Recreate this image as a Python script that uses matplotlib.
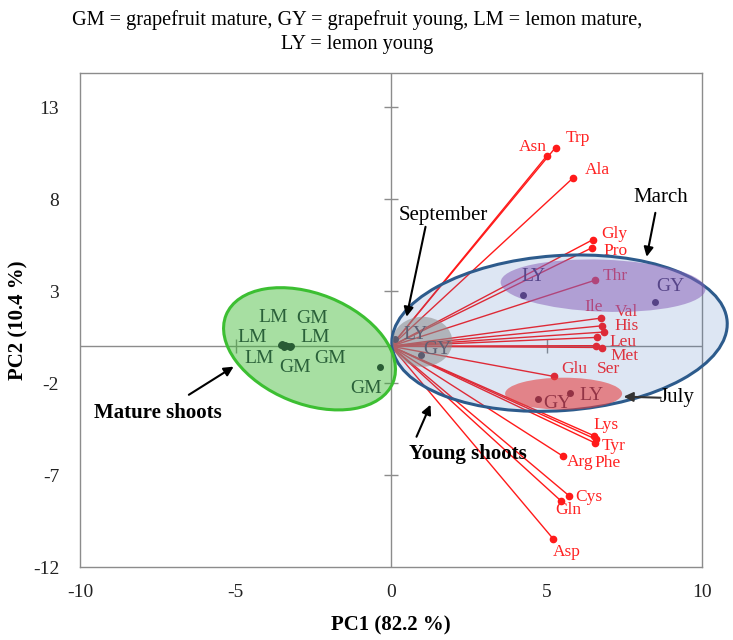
import matplotlib
matplotlib.use('Agg')
import matplotlib.pyplot as plt
from matplotlib.patches import Ellipse
from matplotlib.transforms import ScaledTranslation

plt.rcParams['font.family'] = 'serif'
plt.rcParams['font.serif'] = ['Liberation Serif', 'DejaVu Serif']
plt.rcParams['axes.unicode_minus'] = False

# amino acid loadings
amino = ['Asn', 'Trp', 'Ala', 'Gly', 'Pro', 'Thr', 'Ile', 'Val', 'His', 'Leu',
         'Met', 'Ser', 'Glu', 'Lys', 'Tyr', 'Phe', 'Arg', 'Cys', 'Gln', 'Asp']
load_pc1 = [5.01, 5.29, 5.85, 6.49, 6.45, 6.55, 6.76, 6.79, 6.84, 6.63,
            6.79, 6.58, 5.23, 6.52, 6.58, 6.55, 5.54, 5.72, 5.48, 5.21]
load_pc2 = [10.35, 10.8, 9.14, 5.79, 5.34, 3.58, 1.53, 1.11, 0.77, 0.48,
            -0.07, 0.03, -1.64, -4.86, -5.05, -5.25, -5.99, -8.12, -8.43, -10.46]

# sample scores
samples = ['LM', 'GM', 'LM', 'LM', 'LM', 'GM', 'GM', 'GM',
           'LY', 'GY', 'LY', 'GY', 'GY', 'LY']
score_pc1 = [-3.5, -3.4, -3.55, -3.3, -3.45, -3.25, -3.2, -0.34,
             0.14, 0.97, 4.25, 8.5, 4.73, 5.75]
score_pc2 = [0.12, 0.08, 0.05, 0.02, -0.02, -0.05, 0.0, -1.13,
             0.41, -0.46, 2.8, 2.38, -2.87, -2.54]

xticks = [-10, -5, 0, 5, 10]
yticks = [-12, -7, -2, 3, 8, 13]

# label offsets in pixels
amino_dx = [-14, 22, 24, 21, 24, 21, -8, 24, 23, 26, 22, 13, 21, 12, 18, 13, 17, 20, 7, 14]
amino_dy = [9, 10, 8, 6, -3, 4, 11, 14, 6, -5, -8, -23, 7, 11, -7, -20, -6, -1, -9, -13]
sample_dx = [-9, 27, -28, 27, -25, 5, 39, -14, 20, 16, 10, 15, 19, 22]
sample_dy = [27, 26, 8, 8, -12, -20, -12, -21, 4, 5, 18, 16, -4, -3]

fig = plt.figure(figsize=(7.33, 6.4), dpi=100)
ax = fig.add_axes([80 / 733, 1 - 567 / 640, 622 / 733, 494 / 640])
ax.set_xlim(-10, 10)
ax.set_ylim(-12, 14.85)
ax.set_xticks(xticks)
ax.set_yticks(yticks)
ax.tick_params(length=0, labelsize=14, colors='#222222')
ax.tick_params(axis='x', pad=12)
ax.tick_params(axis='y', pad=15)
for s in ax.spines.values():
    s.set_color('#8c8c8c')
    s.set_linewidth(1)

# axis lines through zero with cross ticks
ax.axhline(0, color='#8c8c8c', lw=1, zorder=1)
ax.axvline(0, color='#8c8c8c', lw=1, zorder=1)
ax.plot([t for t in xticks if t not in (-10, 0, 10)], [0] * 2, ls='none', marker='|',
        ms=10, mew=1, color='#8c8c8c', zorder=1)
ax.plot([0] * 5, [t for t in yticks if t != -12], ls='none', marker='_',
        ms=10, mew=1, color='#8c8c8c', zorder=1)

# loadings
for name, x, y, dx, dy in zip(amino, load_pc1, load_pc2, amino_dx, amino_dy):
    ax.plot([0, x], [0, y], color='#ff1a1a', lw=1, zorder=2)
    ax.plot(x, y, 'o', color='#ff1a1a', ms=4.5, zorder=3)
    ax.annotate(name, (x, y), xytext=(dx, dy), textcoords='offset pixels',
                ha='center', va='center', fontsize=12.5, color='#ff2222', zorder=3)

# scores
ax.plot(score_pc1, score_pc2, 'o', color='#1a1238', ms=4, ls='none', zorder=3)
for name, x, y, dx, dy in zip(samples, score_pc1, score_pc2, sample_dx, sample_dy):
    ax.annotate(name, (x, y), xytext=(dx, dy), textcoords='offset pixels',
                ha='center', va='center', fontsize=14, color='#1c1a40', zorder=3)


def ellipse(cx, cy, w, h, angle, z, **kw):
    tr = fig.dpi_scale_trans + ScaledTranslation(cx, cy, ax.transData)
    e = Ellipse((0, 0), w / 100, h / 100, angle=angle, transform=tr,
                clip_on=False, zorder=z, **kw)
    ax.add_patch(e)


# young shoots
ellipse(5.42, 0.71, 336, 155, 4, 4, facecolor=(70 / 255, 120 / 255, 190 / 255, 0.18),
        edgecolor='#2d5b8c', lw=2.2)
ellipse(6.82, 3.29, 205, 52, -2, 5, facecolor=(135 / 255, 95 / 255, 185 / 255, 0.52),
        edgecolor='none')
ellipse(5.55, -2.58, 117, 32, 0, 5, facecolor=(230 / 255, 60 / 255, 60 / 255, 0.58),
        edgecolor='none')
ellipse(1.01, 0.24, 60, 50, 0, 5, facecolor=(140 / 255, 140 / 255, 140 / 255, 0.55),
        edgecolor='none')
# mature shoots
ellipse(-2.62, -0.14, 180, 110, -22, 5, facecolor=(60 / 255, 184 / 255, 50 / 255, 0.45),
        edgecolor='#3cbf32', lw=2.2)

arrow = dict(arrowstyle='-|>', color='black', lw=1.5, mutation_scale=14, shrinkA=0, shrinkB=0)
ax.annotate('', xy=(8.22, 4.86), xytext=(8.5, 7.25), arrowprops=arrow, zorder=6)
ax.text(8.67, 8.07, 'March', ha='center', va='center', fontsize=15, zorder=6)
ax.annotate('', xy=(0.5, 1.6), xytext=(1.11, 6.49), arrowprops=arrow, zorder=6)
ax.text(1.69, 7.09, 'September', ha='center', va='center', fontsize=15, zorder=6)
ax.annotate('', xy=(7.48, -2.74), xytext=(8.67, -2.8),
            arrowprops=dict(arrow, color='#333333'), zorder=6)
ax.text(9.21, -2.8, 'July', ha='center', va='center', fontsize=15, zorder=6)
ax.annotate('', xy=(-5.06, -1.11), xytext=(-6.5, -2.64), arrowprops=arrow, zorder=6)
ax.text(-7.48, -3.61, 'Mature shoots', ha='center', va='center', fontsize=15,
        fontweight='bold', zorder=6)
ax.annotate('', xy=(1.27, -3.18), xytext=(0.82, -4.92), arrowprops=arrow, zorder=6)
ax.text(2.46, -5.84, 'Young shoots', ha='center', va='center', fontsize=15,
        fontweight='bold', zorder=6)

fig.text(357 / 733, 1 - 20 / 640, 'GM = grapefruit mature, GY = grapefruit young, LM = lemon mature,',
         ha='center', va='center', fontsize=14.6)
fig.text(357 / 733, 1 - 45 / 640, 'LY = lemon young', ha='center', va='center', fontsize=14.6)
fig.text(391 / 733, 1 - 625 / 640, 'PC1 (82.2 %)', ha='center', va='center',
         fontsize=15, fontweight='bold')
fig.text(18 / 733, 1 - 320 / 640, 'PC2 (10.4 %)', ha='center', va='center',
         fontsize=15, fontweight='bold', rotation=90)

fig.savefig('out.png', dpi=100)
